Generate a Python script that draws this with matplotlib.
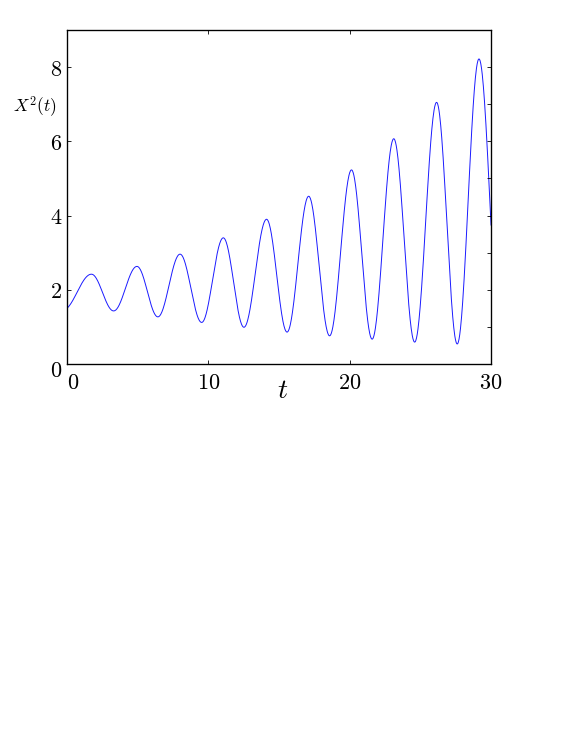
import numpy as np
import matplotlib
matplotlib.use("Agg")
import matplotlib.pyplot as plt
from matplotlib.transforms import ScaledTranslation

plt.rcParams['mathtext.fontset'] = 'cm'
plt.rcParams['font.family'] = ['DejaVu Serif']

# Extrema of the curve (time, value).
# First entry lies just before t=0, last just after t=30 (curve is clipped by the axes).
ext_t = [-0.30, 1.73, 3.30, 4.95, 6.43, 8.00, 9.53, 11.06, 12.52, 14.12, 15.57,
         17.10, 18.58, 20.13, 21.59, 23.12, 24.60, 26.15, 27.61, 29.15, 30.70]
ext_v = [1.45, 2.42, 1.43, 2.63, 1.27, 2.96, 1.12, 3.40, 0.99, 3.90, 0.86,
         4.52, 0.76, 5.23, 0.67, 6.07, 0.59, 7.05, 0.54, 8.22, 0.48]

x_ticks = [0, 10, 20, 30]
y_ticks = [0, 2, 4, 6, 8]
y_right_ticks = [1, 2, 3, 4, 5, 6, 7, 8]

# smooth half-wave path between successive extrema
ts, vs = [], []
for i in range(len(ext_t) - 1):
    s = np.linspace(0, 1, 60, endpoint=False)
    ts.append(ext_t[i] + (ext_t[i + 1] - ext_t[i]) * s)
    vs.append(ext_v[i] + (ext_v[i + 1] - ext_v[i]) * (1 - np.cos(np.pi * s)) / 2)
ts = np.concatenate(ts)
vs = np.concatenate(vs)

fig = plt.figure(figsize=(5.81, 7.52), dpi=100)
ax = fig.add_axes([67 / 581, 1 - 364 / 752, 424 / 581, 334 / 752])
ax.plot(ts, vs, color='#1a1aff', lw=0.7)
ax.set_xlim(0, 30)
ax.set_ylim(0, 9)
ax.set_xticks(x_ticks)
ax.set_xticklabels([f'${v}$' for v in x_ticks])
ax.set_yticks(y_ticks)
ax.set_yticklabels([f'${v}$' for v in y_ticks])
ax.tick_params(axis='both', direction='in', length=3, width=0.6, labelsize=16)
ax.tick_params(axis='x', top=True, pad=6)
ax.tick_params(axis='y', right=False, pad=3.5)
for sp in ax.spines.values():
    sp.set_linewidth(0.9)

ax2 = ax.twinx()
ax2.set_ylim(0, 9)
ax2.set_yticks(y_right_ticks)
ax2.set_yticklabels([])
ax2.tick_params(axis='y', direction='in', length=3, width=0.6)

# shift the two "0" labels like the reference
fig.canvas.draw()
xl0 = ax.get_xticklabels()[0]
xl0.set_transform(xl0.get_transform() + ScaledTranslation(6.5 / 100, 0, fig.dpi_scale_trans))
yl0 = ax.get_yticklabels()[0]
yl0.set_transform(yl0.get_transform() + ScaledTranslation(0, -4.5 / 100, fig.dpi_scale_trans))

ax.set_ylabel('$X^2(t)$', rotation=0, fontsize=12.5, ha='center', va='center')
ax.yaxis.set_label_coords(-0.075, 0.77)
ax.set_xlabel('$t$', fontsize=20, ha='center', va='center')
ax.xaxis.set_label_coords(0.509, -0.078)

fig.savefig('out.png', dpi=100)
